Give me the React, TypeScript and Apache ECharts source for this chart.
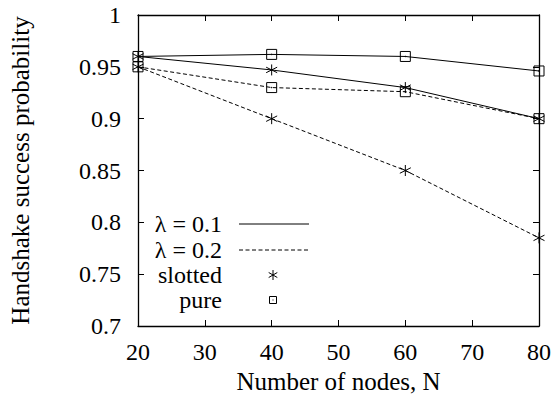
import React, { useEffect, useRef } from "react";
import * as echarts from "echarts";

const nodes = [20, 40, 60, 80];
const slotted01 = [0.96, 0.947, 0.93, 0.9];
const pure01 = [0.96, 0.962, 0.96, 0.946];
const slotted02 = [0.95, 0.9, 0.85, 0.785];
const pure02 = [0.95, 0.93, 0.926, 0.9];

const legendLabels = ["λ = 0.1", "λ = 0.2", "slotted", "pure"];

const FONT = "Liberation Serif, Times New Roman, serif";
const STAR = "path://M5 0 L5 10 M0.7 2.5 L9.3 7.5 M0.7 7.5 L9.3 2.5";
const BOX = "path://M0 0 L10 0 L10 10 L0 10 Z M4.7 4.7 L5.3 4.7 L5.3 5.3 L4.7 5.3 Z";
const DASH = [4, 2.5];

const pairs = (ys: number[]) => nodes.map((x, i) => [x, ys[i]]);

export default function App() {
  const ref = useRef<HTMLDivElement>(null);
  useEffect(() => {
    if (!ref.current) return;
    const chart = echarts.init(ref.current, null, { renderer: "svg" });
    const mk = (name: string, ys: number[], dashed: boolean, symbol: string, size: number) => ({
      name,
      type: "line",
      data: pairs(ys),
      symbol,
      symbolSize: size,
      showSymbol: true,
      lineStyle: { color: "#000", width: 1, type: dashed ? DASH : "solid" },
      itemStyle: { color: "rgba(0,0,0,0)", borderColor: "#000", borderWidth: 1 },
      emphasis: { disabled: true },
      z: 3,
    });
    const axisCommon = {
      axisLine: { show: true, lineStyle: { color: "#000", width: 1.3 } },
      axisTick: { show: true, inside: true, length: 6, lineStyle: { color: "#000" } },
      splitLine: { show: false },
    };
    const legX = 222;
    const lineX1 = 239;
    const lineX2 = 309;
    const markX = 273;
    const legY = [224, 250, 275, 300];
    chart.setOption({
      animation: false,
      textStyle: { fontFamily: FONT },
      grid: { left: 135, right: 17, top: 15, bottom: 78 },
      xAxis: [
        {
          type: "value",
          min: 20,
          max: 80,
          interval: 10,
          ...axisCommon,
          axisLabel: { color: "#000", fontSize: 24, fontFamily: FONT, margin: 14 },
          name: "Number of nodes, N",
          nameLocation: "middle",
          nameGap: 42,
          nameTextStyle: { color: "#000", fontSize: 25, fontFamily: FONT },
        },
        {
          type: "value",
          position: "top",
          min: 20,
          max: 80,
          interval: 10,
          ...axisCommon,
          axisLabel: { show: false },
        },
      ],
      yAxis: [
        {
          type: "value",
          min: 0.7,
          max: 1,
          interval: 0.05,
          ...axisCommon,
          axisLabel: {
            color: "#000",
            fontSize: 24,
            fontFamily: FONT,
            margin: 17,
            formatter: (v: number) => String(Number(v.toFixed(2))),
          },
          name: "Handshake success probability",
          nameLocation: "middle",
          nameGap: 105,
          nameTextStyle: { color: "#000", fontSize: 25, fontFamily: FONT },
        },
        {
          type: "value",
          position: "right",
          min: 0.7,
          max: 1,
          interval: 0.05,
          ...axisCommon,
          axisLabel: { show: false },
        },
      ],
      series: [
        mk("slotted λ=0.1", slotted01, false, STAR, 11),
        mk("pure λ=0.1", pure01, false, BOX, 10),
        mk("slotted λ=0.2", slotted02, true, STAR, 11),
        mk("pure λ=0.2", pure02, true, BOX, 10),
      ],
      graphic: [
        ...legendLabels.map((t, i) => ({
          type: "text",
          x: legX,
          y: legY[i],
          style: {
            text: t,
            fill: "#000",
            fontSize: 24,
            fontFamily: FONT,
            textAlign: "right",
            textVerticalAlign: "middle",
          },
        })),
        {
          type: "line",
          shape: { x1: lineX1, y1: legY[0], x2: lineX2, y2: legY[0] },
          style: { stroke: "#000", lineWidth: 1 },
        },
        {
          type: "line",
          shape: { x1: lineX1, y1: legY[1], x2: lineX2, y2: legY[1] },
          style: { stroke: "#000", lineWidth: 1, lineDash: DASH },
        },
        {
          type: "line",
          shape: { x1: markX, y1: legY[2] - 5, x2: markX, y2: legY[2] + 5 },
          style: { stroke: "#000", lineWidth: 1 },
        },
        {
          type: "line",
          shape: { x1: markX - 4.3, y1: legY[2] - 2.5, x2: markX + 4.3, y2: legY[2] + 2.5 },
          style: { stroke: "#000", lineWidth: 1 },
        },
        {
          type: "line",
          shape: { x1: markX - 4.3, y1: legY[2] + 2.5, x2: markX + 4.3, y2: legY[2] - 2.5 },
          style: { stroke: "#000", lineWidth: 1 },
        },
        {
          type: "rect",
          shape: { x: markX - 3.5, y: legY[3] - 3.5, width: 7, height: 7 },
          style: { stroke: "#000", fill: "none", lineWidth: 1 },
        },
        {
          type: "rect",
          shape: { x: markX - 0.5, y: legY[3] - 0.5, width: 1, height: 1 },
          style: { fill: "#000" },
        },
      ],
    });
    return () => chart.dispose();
  }, []);
  return (
    <div
      ref={ref}
      style={{ position: "absolute", left: 0, top: 0, width: 556, height: 404 }}
    />
  );
}
